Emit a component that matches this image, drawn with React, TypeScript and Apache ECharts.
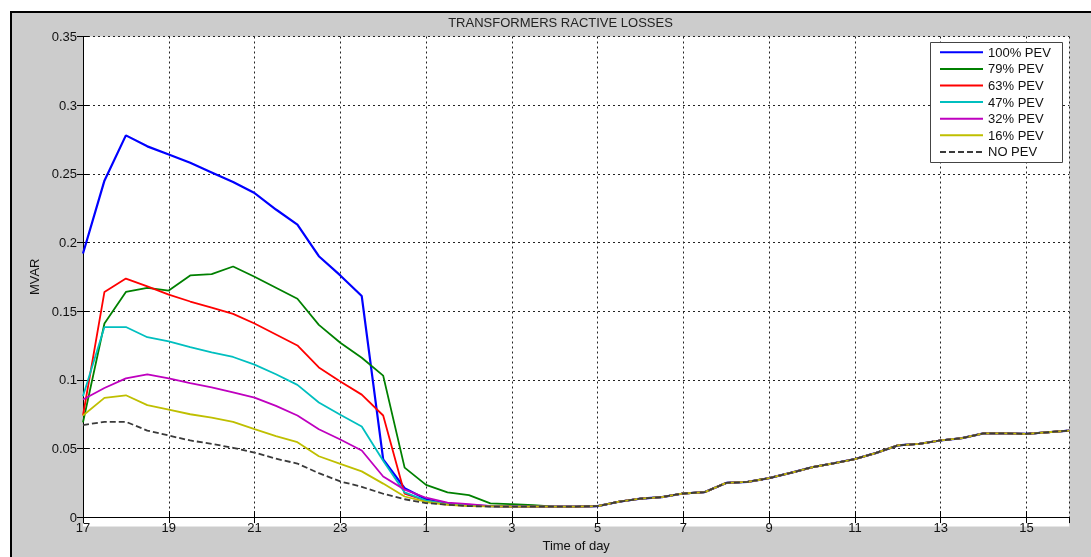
import { useEffect, useRef } from "react";
import * as echarts from "echarts";

// Hours elapsed since 17:00 (half-hour samples, 17:00 -> 16:00 next day)
const hoursSince17 = [
  0, 0.5, 1, 1.5, 2, 2.5, 3, 3.5, 4, 4.5, 5, 5.5, 6, 6.5, 7, 7.5, 8, 8.5, 9, 9.5,
  10, 10.5, 11, 11.5, 12, 12.5, 13, 13.5, 14, 14.5, 15, 15.5, 16, 16.5, 17, 17.5,
  18, 18.5, 19, 19.5, 20, 20.5, 21, 21.5, 22, 22.5, 23,
];

const seriesNames = ["100% PEV", "79% PEV", "63% PEV", "47% PEV", "32% PEV", "16% PEV", "NO PEV"];

// 17:00 .. 03:30 (differs per scenario)
const pev100 = [0.192, 0.245, 0.278, 0.27, 0.264, 0.258, 0.251, 0.244, 0.236, 0.224, 0.213, 0.19, 0.176, 0.161, 0.042, 0.021, 0.013, 0.0095, 0.0085, 0.008, 0.0077, 0.0077];
const pev79 = [0.069, 0.141, 0.164, 0.167, 0.165, 0.176, 0.177, 0.1825, 0.175, 0.167, 0.159, 0.14, 0.127, 0.116, 0.103, 0.036, 0.0235, 0.018, 0.016, 0.01, 0.0094, 0.0087];
const pev63 = [0.074, 0.164, 0.1737, 0.168, 0.162, 0.157, 0.1525, 0.148, 0.141, 0.133, 0.125, 0.109, 0.0987, 0.0892, 0.074, 0.017, 0.012, 0.0095, 0.0085, 0.008, 0.0077, 0.0077];
const pev47 = [0.088, 0.1384, 0.1384, 0.131, 0.128, 0.1237, 0.12, 0.1166, 0.111, 0.104, 0.0963, 0.0835, 0.0745, 0.066, 0.041, 0.018, 0.012, 0.0095, 0.0085, 0.008, 0.0077, 0.0077];
const pev32 = [0.0856, 0.094, 0.101, 0.104, 0.101, 0.0975, 0.0944, 0.0908, 0.087, 0.081, 0.074, 0.064, 0.0565, 0.0485, 0.0296, 0.02, 0.0141, 0.0105, 0.0094, 0.008, 0.0077, 0.0077];
const pev16 = [0.074, 0.0868, 0.0887, 0.0815, 0.0782, 0.0749, 0.0725, 0.0694, 0.064, 0.059, 0.0546, 0.0443, 0.0388, 0.0333, 0.0244, 0.015, 0.011, 0.009, 0.008, 0.0078, 0.0077, 0.0077];
const noPev = [0.067, 0.0694, 0.0694, 0.063, 0.0594, 0.0558, 0.0534, 0.0504, 0.047, 0.0425, 0.039, 0.032, 0.026, 0.022, 0.017, 0.013, 0.0102, 0.009, 0.008, 0.0077, 0.0077, 0.0077];

// 04:00 .. 16:00 (all scenarios coincide)
const sharedTail = [0.0077, 0.0077, 0.008, 0.0112, 0.0134, 0.0146, 0.0172, 0.0182, 0.0249, 0.0256, 0.0284, 0.0322, 0.0363, 0.0392, 0.0423, 0.0468, 0.0522, 0.0534, 0.0558, 0.0575, 0.061, 0.061, 0.0606, 0.0618, 0.063];

const yTicks = { min: 0, max: 0.35, interval: 0.05 };
const xTicks = { min: 0, max: 23, interval: 2 };

const colors = ["#0000ff", "#008000", "#ff0000", "#00bfbf", "#bf00bf", "#bfbf00", "#3a3a3a"];
const widths = [2.2, 1.8, 1.8, 1.8, 1.8, 1.8, 1.8];

const FONT = "'Liberation Sans', Arial, sans-serif";

export default function App() {
  const ref = useRef<HTMLDivElement>(null);
  useEffect(() => {
    if (!ref.current) return;
    const chart = echarts.init(ref.current, undefined, { renderer: "svg" });
    const heads = [pev100, pev79, pev63, pev47, pev32, pev16, noPev];
    const series = heads.map((head, si) => {
      const vals = [...head, ...sharedTail];
      return {
        name: seriesNames[si],
        type: "line",
        data: hoursSince17.map((h, i) => [h, vals[i]]),
        symbol: "none",
        lineStyle: {
          color: colors[si],
          width: widths[si],
          type: si === 6 ? [6, 3] : "solid",
        },
        itemStyle: { color: colors[si] },
      };
    });
    const tickStyle = { inside: true, length: 6, lineStyle: { color: "#000" } };
    const gridLine = { show: true, lineStyle: { color: "#222", type: [2, 3], width: 1 } };
    chart.setOption({
      animation: false,
      backgroundColor: "transparent",
      textStyle: { fontFamily: FONT },
      graphic: [
        {
          type: "rect",
          z: -20,
          shape: { x: 11, y: 12, width: 1200, height: 700 },
          style: { fill: "#cccccc", stroke: "#000", lineWidth: 2 },
        },
        {
          type: "rect",
          z: -10,
          shape: { x: 83, y: 36.5, width: 986.3, height: 490 },
          style: { fill: "#ffffff" },
        },
        {
          type: "rect",
          z: 3,
          shape: { x: 930.5, y: 42.5, width: 132, height: 120 },
          style: { fill: "#ffffff", stroke: "#444", lineWidth: 1 },
        },
        {
          type: "text",
          z: 5,
          x: 560.5,
          y: 22.5,
          style: {
            text: "TRANSFORMERS RACTIVE LOSSES",
            fontSize: 13,
            fontFamily: FONT,
            fill: "#222",
            textAlign: "center",
            textVerticalAlign: "middle",
          },
        },
      ],
      grid: { left: 83, right: 21.7, top: 36.5, bottom: 30.5, show: false },
      legend: {
        data: seriesNames,
        orient: "vertical",
        left: 939,
        top: 45.3,
        itemWidth: 43,
        itemHeight: 14,
        itemGap: 2.6,
        padding: 0,
        itemStyle: { opacity: 0, borderWidth: 0 },
        textStyle: { fontSize: 13, color: "#111", fontFamily: FONT, lineHeight: 14 },
      },
      xAxis: [
        {
          type: "value",
          ...xTicks,
          name: "Time of day",
          nameLocation: "middle",
          nameGap: 15,
          nameTextStyle: { fontSize: 13, color: "#111", fontFamily: FONT },
          axisLine: { show: true, lineStyle: { color: "#000", width: 1 } },
          axisTick: tickStyle,
          axisLabel: {
            margin: 4,
            fontSize: 13,
            color: "#111",
            fontFamily: FONT,
            showMaxLabel: false,
            formatter: (v: number) => String((17 + v) % 24),
          },
          splitLine: gridLine,
        },
        {
          type: "value",
          position: "top",
          ...xTicks,
          axisLine: { show: true, lineStyle: { color: "#000", width: 1 } },
          axisTick: tickStyle,
          axisLabel: { show: false },
          splitLine: { show: false },
        },
      ],
      yAxis: [
        {
          type: "value",
          ...yTicks,
          name: "MVAR",
          nameLocation: "middle",
          nameGap: 40,
          nameTextStyle: { fontSize: 13, color: "#111", fontFamily: FONT },
          axisLine: { show: true, lineStyle: { color: "#000", width: 1 } },
          axisTick: tickStyle,
          axisLabel: { margin: 6, fontSize: 13, color: "#111", fontFamily: FONT },
          splitLine: gridLine,
        },
        {
          type: "value",
          position: "right",
          ...yTicks,
          axisLine: { show: true, lineStyle: { color: "#000", width: 1 } },
          axisTick: tickStyle,
          axisLabel: { show: false },
          splitLine: { show: false },
        },
      ],
      series,
    });
    return () => chart.dispose();
  }, []);
  return (
    <div
      ref={ref}
      style={{ position: "fixed", left: 0, top: 0, width: 1091, height: 557 }}
    />
  );
}
